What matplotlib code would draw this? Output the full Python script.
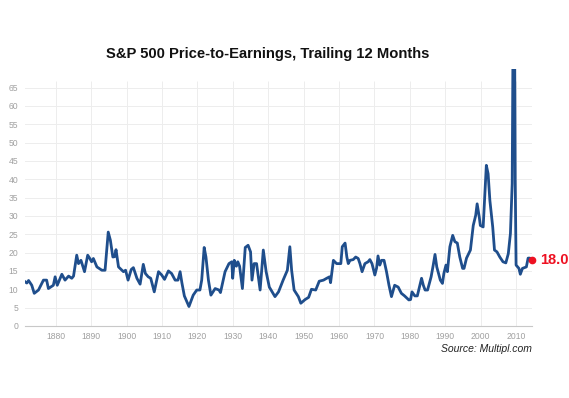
import matplotlib
matplotlib.use("Agg")
import matplotlib.pyplot as plt

# ---- data -----------------------------------------------------------------------------
years = [
    1871.0, 1871.8, 1872.3, 1873.2, 1873.9, 1875.1, 1876.5, 1877.4, 1877.9, 1879.3,
    1879.8, 1880.4, 1881.7, 1882.6, 1883.6, 1884.5, 1885.0, 1885.9, 1886.4, 1887.1,
    1888.1, 1889.0, 1889.6, 1890.1, 1890.6, 1891.6, 1893.0, 1893.9, 1894.8, 1895.4,
    1896.1, 1896.6, 1897.0, 1897.7, 1899.1, 1899.7, 1900.4, 1901.3, 1901.9, 1902.9,
    1903.8, 1904.7, 1905.3, 1906.1, 1906.8, 1907.8, 1909.0, 1909.9, 1910.7, 1911.8,
    1912.7, 1913.7, 1914.5, 1915.1, 1915.6, 1916.3, 1917.6, 1918.8, 1919.8, 1920.7,
    1921.2, 1921.9, 1922.4, 1923.1, 1923.8, 1925.0, 1926.1, 1926.5, 1927.8, 1928.9,
    1929.7, 1929.95, 1930.4, 1931.0, 1931.4, 1931.9, 1932.7, 1933.5, 1934.3, 1935.0,
    1935.4, 1936.0, 1936.7, 1937.7, 1938.6, 1939.4, 1940.3, 1941.9, 1942.9, 1944.2,
    1945.4, 1946.1, 1946.6, 1947.3, 1948.5, 1949.2, 1950.4, 1951.4, 1952.2, 1953.4,
    1954.4, 1955.6, 1956.5, 1957.3, 1957.6, 1958.4, 1959.3, 1960.5, 1960.9, 1961.7,
    1962.2, 1962.6, 1963.1, 1964.0, 1964.7, 1965.4, 1965.9, 1966.5, 1967.3, 1968.2,
    1968.7, 1969.3, 1970.1, 1970.6, 1971.0, 1971.5, 1972.0, 1972.7, 1973.4, 1974.1,
    1974.8, 1975.7, 1976.7, 1977.6, 1978.5, 1979.7, 1980.2, 1980.6, 1981.4, 1982.1,
    1983.3, 1983.8, 1984.3, 1985.0, 1986.0, 1986.6, 1987.1, 1987.6, 1988.6, 1989.2,
    1989.6, 1990.2, 1990.6, 1991.3, 1992.1, 1992.7, 1993.4, 1994.1, 1994.9, 1995.3,
    1996.0, 1997.1, 1997.9, 1998.6, 1999.0, 1999.6, 1999.9, 2000.7, 2001.6, 2002.1,
    2002.6, 2003.4, 2003.9, 2004.6, 2005.4, 2006.3, 2007.1, 2007.8, 2008.4, 2008.9,
    2009.4, 2009.75, 2010.0, 2010.8, 2011.2, 2011.8, 2012.9, 2013.4, 2013.9, 2014.5,
]
pe_ratio = [
    12.3, 11.7, 12.4, 11.1, 8.9, 9.8, 12.5, 12.5, 10.2, 11.1,
    13.4, 11.1, 14.1, 12.5, 13.6, 13.0, 13.6, 19.3, 17.0, 17.9,
    14.8, 19.3, 18.4, 17.5, 18.4, 16.1, 15.2, 15.2, 25.6, 23.4,
    18.8, 18.9, 20.8, 16.1, 14.8, 15.2, 12.5, 15.4, 15.9, 13.0,
    11.4, 16.8, 14.3, 13.4, 13.0, 9.3, 14.8, 13.9, 12.7, 15.0,
    14.3, 12.5, 12.5, 14.8, 11.8, 8.2, 5.3, 8.4, 9.8, 9.8,
    12.5, 21.4, 18.8, 12.5, 8.4, 10.2, 9.8, 9.1, 14.8, 17.0,
    17.5, 13.0, 17.9, 16.3, 17.5, 16.3, 10.2, 21.4, 22.0, 20.2,
    12.5, 17.0, 17.0, 9.8, 20.7, 14.8, 10.6, 8.0, 9.3, 12.5,
    15.2, 21.6, 15.2, 9.8, 8.0, 6.2, 7.2, 7.8, 10.0, 9.8,
    12.2, 12.5, 13.0, 13.4, 11.8, 17.9, 17.0, 17.0, 21.6, 22.6,
    18.8, 17.0, 17.9, 18.1, 18.8, 18.4, 17.0, 14.8, 17.0, 17.5,
    18.1, 17.0, 13.9, 15.8, 19.1, 16.6, 17.9, 17.9, 14.8, 11.1,
    8.0, 11.1, 10.6, 8.9, 8.2, 7.1, 7.2, 9.3, 8.2, 8.2,
    13.0, 11.1, 9.8, 9.8, 13.4, 16.6, 19.5, 16.1, 12.5, 11.6,
    14.3, 16.6, 14.8, 21.6, 24.7, 23.0, 22.6, 18.8, 15.7, 15.7,
    18.5, 20.7, 27.4, 30.2, 33.3, 29.7, 27.4, 27.0, 43.8, 41.5,
    34.2, 27.0, 20.7, 20.2, 18.8, 17.5, 17.2, 19.7, 25.2, 38.8,
    123.0, 40.0, 16.6, 15.7, 14.1, 15.7, 16.1, 18.5, 18.5, 18.0,
]
x_ticks = list(range(1880, 2011, 10))
y_ticks = list(range(0, 66, 5))
latest_label = "18.0"

LINE = "#1f4e8c"
RED = "#ee1122"
GRID = "#ededed"
TICK = "#a0a0a0"

plt.rcParams["font.family"] = ["Liberation Sans", "DejaVu Sans"]

fig = plt.figure(figsize=(5.69, 3.98), dpi=100)
ax = fig.add_axes([0.044, 0.181, 0.891, 0.645])

ax.plot(years, pe_ratio, color=LINE, lw=2.0, solid_joinstyle="round", zorder=3)
ax.plot(years[-1], pe_ratio[-1], "o", ms=4.5, color=RED, clip_on=False, zorder=4)
ax.annotate(latest_label, xy=(years[-1], pe_ratio[-1]), xytext=(5.5, 0),
            textcoords="offset points", va="center", ha="left",
            fontsize=10.5, fontweight="bold", color=RED, annotation_clip=False)

ax.set_xlim(1871.3, 2014.5)
ax.set_ylim(0, 70)
ax.set_xticks(x_ticks)
ax.set_yticks(y_ticks)
ax.tick_params(length=0, labelsize=6.2, labelcolor=TICK, pad=4)
ax.tick_params(axis="y", pad=5)

for y in y_ticks[1:]:
    ax.axhline(y, color=GRID, lw=0.7, zorder=1)
ax.vlines(x_ticks, 0, 66.8, color=GRID, lw=0.7, zorder=1)

for side in ["top", "right", "left"]:
    ax.spines[side].set_visible(False)
ax.spines["bottom"].set_color("#c8c8c8")
ax.spines["bottom"].set_linewidth(0.8)

fig.text(0.47, 0.865, "S&P 500 Price-to-Earnings, Trailing 12 Months",
         ha="center", va="center", fontsize=10.6, fontweight="bold", color="#111111")
fig.text(0.935, 0.123, "Source: Multipl.com", ha="right", va="center",
         fontsize=7.5, fontstyle="italic", color="#222222")

fig.savefig("out.png", dpi=100)
